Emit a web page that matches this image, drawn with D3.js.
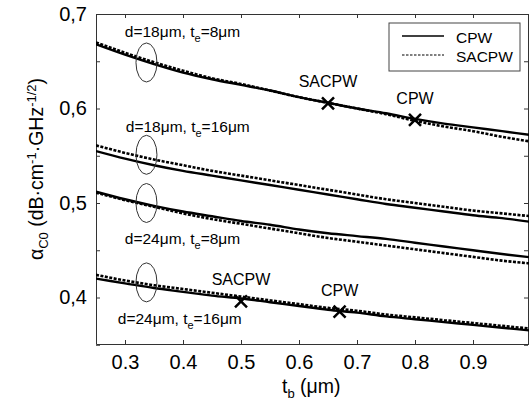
<!DOCTYPE html>
<meta charset="utf-8">
<style>
  body { margin: 0; background: #fff; }
  svg { font-family: "Liberation Sans", Arial, sans-serif; }
  .axis path, .axis line { stroke: #333; }
</style>
<svg width="529" height="412"></svg>
<script src="https://cdn.jsdelivr.net/npm/d3@7"></script>
<script>

// thickness t_b (um)
var tb = [0.25, 0.3, 0.35, 0.4, 0.45, 0.5, 0.55, 0.6, 0.65, 0.7, 0.75, 0.8, 0.85, 0.9, 0.95, 1.0];

// attenuation alpha_C0, one array per geometry and line type
var cpw18_8    = [0.668, 0.657, 0.647, 0.638, 0.631, 0.625, 0.619, 0.612, 0.606, 0.600, 0.595, 0.589, 0.584, 0.580, 0.576, 0.572];
var sacpw18_8  = [0.670, 0.659, 0.649, 0.640, 0.632, 0.626, 0.619, 0.612, 0.606, 0.600, 0.594, 0.587, 0.581, 0.576, 0.570, 0.565];
var cpw18_16   = [0.555, 0.547, 0.540, 0.534, 0.529, 0.524, 0.519, 0.514, 0.509, 0.504, 0.499, 0.495, 0.491, 0.487, 0.484, 0.480];
var sacpw18_16 = [0.561, 0.553, 0.546, 0.540, 0.534, 0.529, 0.524, 0.519, 0.514, 0.509, 0.504, 0.500, 0.496, 0.492, 0.489, 0.486];
var cpw24_8    = [0.512, 0.504, 0.497, 0.491, 0.486, 0.481, 0.477, 0.472, 0.468, 0.465, 0.462, 0.458, 0.454, 0.450, 0.446, 0.4425];
var sacpw24_8  = [0.511, 0.503, 0.496, 0.489, 0.483, 0.478, 0.473, 0.468, 0.463, 0.459, 0.455, 0.451, 0.447, 0.443, 0.439, 0.436];
var cpw24_16   = [0.420, 0.415, 0.410, 0.406, 0.402, 0.399, 0.395, 0.391, 0.387, 0.384, 0.380, 0.377, 0.374, 0.371, 0.368, 0.365];
var sacpw24_16 = [0.424, 0.418, 0.413, 0.409, 0.405, 0.401, 0.397, 0.393, 0.389, 0.386, 0.382, 0.379, 0.376, 0.373, 0.370, 0.367];

// X markers and their names
var markT = [0.65, 0.8, 0.5, 0.67];
var markV = [0.6055, 0.588, 0.396, 0.385];
var markName = ["SACPW", "CPW", "SACPW", "CPW"];

// group annotations (ellipse centre + text)
var groupName = [["18", "8"], ["18", "16"], ["24", "8"], ["24", "16"]];
var groupT = [0.337, 0.337, 0.337, 0.337];
var groupV = [0.6487, 0.551, 0.5, 0.416];
var groupTextT = [0.2997, 0.3014, 0.2997, 0.2876];
var groupTextV = [0.676, 0.5755, 0.457, 0.372];

var xTicks = [0.3, 0.4, 0.5, 0.6, 0.7, 0.8, 0.9, 1.0];
var yTicks = [0.35, 0.4, 0.45, 0.5, 0.55, 0.6, 0.65, 0.7];
var yLabelled = [0.4, 0.5, 0.6, 0.7];

var svg = d3.select("svg");

var x = d3.scaleLinear().domain([0.25, 1.0]).range([96, 531]);
var y = d3.scaleLinear().domain([0.3508, 0.7]).range([344, 14]);

// frame ticks on all sides
svg.append("g").attr("class", "axis")
  .attr("transform", "translate(0,344)")
  .call(d3.axisBottom(x).tickValues(xTicks).tickSize(-4).tickPadding(11).tickSizeOuter(0)
    .tickFormat(function(d) { return d < 0.99 ? d3.format(".1f")(d) : ""; }))
  .call(function(g) { g.selectAll("text").attr("font-size", 20).attr("font-family", "Liberation Sans, Arial").attr("fill", "#000"); });

svg.append("g").attr("class", "axis")
  .attr("transform", "translate(0,14)")
  .call(d3.axisTop(x).tickValues(xTicks).tickSize(-4).tickSizeOuter(0).tickFormat(""));

svg.append("g").attr("class", "axis")
  .attr("transform", "translate(96,0)")
  .call(d3.axisLeft(y).tickValues(yTicks).tickSize(-4).tickPadding(9).tickSizeOuter(0)
    .tickFormat(function(d) {
      var lab = yLabelled.some(function(v) { return Math.abs(v - d) < 1e-6; });
      return lab ? d3.format(".1f")(d).replace(".", ",") : "";
    }))
  .call(function(g) { g.selectAll("text").attr("font-size", 20).attr("font-family", "Liberation Sans, Arial").attr("fill", "#000"); });

svg.append("g").attr("class", "axis")
  .attr("transform", "translate(528,0)")
  .call(d3.axisRight(y).tickValues(yTicks).tickSize(-4).tickSizeOuter(0).tickFormat(""));

// curves
var line = d3.line()
  .x(function(d) { return x(d[0]); })
  .y(function(d) { return y(d[1]); })
  .curve(d3.curveMonotoneX);

var series = [
  [cpw18_8, false], [sacpw18_8, true],
  [cpw18_16, false], [sacpw18_16, true],
  [cpw24_8, false], [sacpw24_8, true],
  [cpw24_16, false], [sacpw24_16, true]
];

var plot = svg.append("g");
plot.append("clipPath").attr("id", "clip")
  .append("rect").attr("x", 96).attr("y", 14).attr("width", 435).attr("height", 330);

series.forEach(function(s) {
  plot.append("path")
    .datum(tb.map(function(t, i) { return [t, s[0][i]]; }))
    .attr("clip-path", "url(#clip)")
    .attr("d", line)
    .attr("fill", "none")
    .attr("stroke", "#000")
    .attr("stroke-width", s[1] ? 2.6 : 2.4)
    .attr("stroke-dasharray", s[1] ? "3,1.5" : null);
});

// ellipses + labels
groupT.forEach(function(t, i) {
  plot.append("ellipse")
    .attr("cx", x(t)).attr("cy", y(groupV[i]))
    .attr("rx", 10.5).attr("ry", 19.5)
    .attr("fill", "none").attr("stroke", "#333").attr("stroke-width", 1);

  var txt = svg.append("text")
    .attr("x", x(groupTextT[i])).attr("y", y(groupTextV[i]))
    .attr("font-size", 15.5).attr("fill", "#000");
  txt.append("tspan").text("d=" + groupName[i][0] + "\u03bcm, t");
  txt.append("tspan").attr("dy", 5).attr("font-size", 11).text("e");
  txt.append("tspan").attr("dy", -5).text("=" + groupName[i][1] + "\u03bcm");
});

// markers
markT.forEach(function(t, i) {
  var cx = x(t), cy = y(markV[i]), s = 6;
  plot.append("path")
    .attr("d", "M" + (cx - s) + "," + (cy - s) + "L" + (cx + s) + "," + (cy + s) +
               "M" + (cx - s) + "," + (cy + s) + "L" + (cx + s) + "," + (cy - s))
    .attr("stroke", "#000").attr("stroke-width", 2.5);
  svg.append("text")
    .attr("x", cx).attr("y", cy - 16)
    .attr("text-anchor", "middle")
    .attr("font-size", 16)
    .text(markName[i]);
});

// legend
var legend = svg.append("g");
legend.append("rect")
  .attr("x", 389).attr("y", 23).attr("width", 131).attr("height", 48)
  .attr("fill", "#fff").attr("stroke", "#444").attr("stroke-width", 1);
legend.append("line")
  .attr("x1", 402).attr("x2", 444).attr("y1", 36).attr("y2", 36)
  .attr("stroke", "#000").attr("stroke-width", 1.5);
legend.append("line")
  .attr("x1", 402).attr("x2", 444).attr("y1", 55).attr("y2", 55)
  .attr("stroke", "#000").attr("stroke-width", 1.2).attr("stroke-dasharray", "2.5,1.5");
legend.append("text").attr("x", 456).attr("y", 43).attr("font-size", 15.5).text("CPW");
legend.append("text").attr("x", 456).attr("y", 62).attr("font-size", 15.5).text("SACPW");

// axis titles
var xt = svg.append("text")
  .attr("x", 282).attr("y", 393).attr("font-size", 19.5);
xt.append("tspan").text("t");
xt.append("tspan").attr("dy", 5).attr("font-size", 13).text("b");
xt.append("tspan").attr("dy", -5).text(" (\u03bcm)");

var yt = svg.append("text")
  .attr("transform", "translate(43,169) rotate(-90)")
  .attr("text-anchor", "middle")
  .attr("font-size", 19.5);
yt.append("tspan").text("\u03b1");
yt.append("tspan").attr("dy", 5).attr("font-size", 13).text("C0");
yt.append("tspan").attr("dy", -5).text(" (dB\u00b7cm");
yt.append("tspan").attr("dy", -7).attr("font-size", 13).text("-1");
yt.append("tspan").attr("dy", 7).text("\u00b7GHz");
yt.append("tspan").attr("dy", -7).attr("font-size", 13).text("-1/2");
yt.append("tspan").attr("dy", 7).text(")");

</script>
